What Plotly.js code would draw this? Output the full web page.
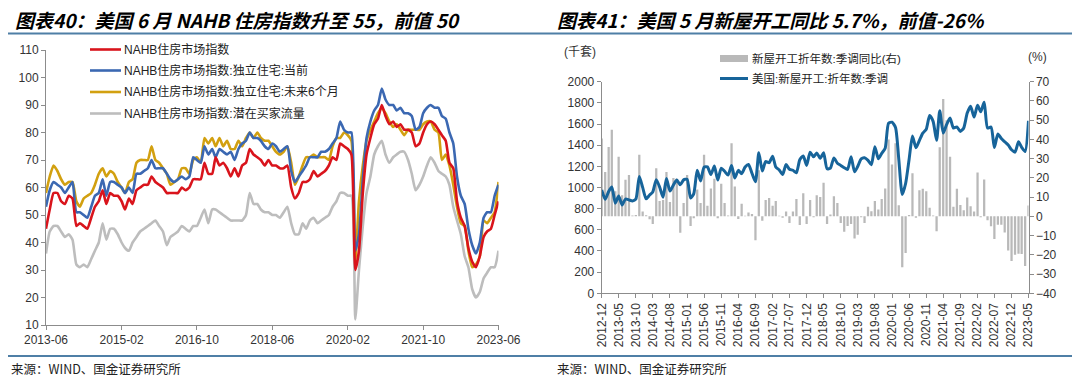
<!DOCTYPE html>
<html><head><meta charset="utf-8">
<script src="https://cdn.plot.ly/plotly-3.0.1.min.js"></script>
<style>html,body{margin:0;padding:0;background:#fff}#chart{width:1080px;height:379px}</style>
</head><body><div id="chart"></div>
<script>
// ---------- Left panel: NAHB indices, monthly 2013-06 .. 2023-06 ----------
const nahbStart = [2013, 6];
const nahbComposite = [45,52,58,58,55,54,57,
 56,46,47,46,45,49,53,55,59,54,58,57,
 57,55,52,56,54,59,60,61,61,64,62,61,
 60,58,58,58,58,60,59,60,63,63,63,69,
 65,65,71,68,69,67,64,67,64,68,69,74,
 72,71,70,68,70,68,68,67,67,68,60,56,
 58,62,62,63,66,64,65,66,68,71,70,76,
 75,74,72,30,37,58,72,78,83,85,90,86,
 83,84,82,83,81,81,80,75,76,80,83,84,
 83,81,79,77,69,67,55,49,46,38,33,31,
 35,42,44,45,50,55];
const nahbCurrent = [53,59,62,61,60,58,60,
 62,51,51,50,49,53,57,58,63,57,62,62,
 61,60,58,60,58,65,65,66,67,70,67,67,
 67,65,63,62,63,64,63,64,71,70,69,75,
 72,74,71,74,73,72,73,70,74,76,77,80,
 78,78,77,75,74,76,75,73,74,75,66,62,
 64,66,68,71,71,71,73,73,74,76,78,84,
 81,80,80,37,43,63,78,84,88,90,96,92,
 90,90,88,89,87,87,86,81,82,87,89,90,
 89,89,86,85,80,76,64,57,54,45,39,36,
 40,49,51,51,57,61];
const nahbNext6 = [58,64,68,66,63,61,62,
 62,55,53,56,57,58,61,65,67,64,66,65,
 62,60,58,62,63,69,70,70,70,75,70,69,
 67,65,61,62,63,67,67,65,70,71,69,78,
 76,78,75,78,75,77,74,74,77,75,78,80,
 78,80,78,77,77,75,73,72,73,75,69,61,
 64,68,71,71,72,71,71,71,70,75,78,78,
 80,79,77,33,55,68,77,81,84,87,89,87,
 84,82,83,81,79,81,81,81,81,83,84,84,
 81,80,70,72,68,61,53,47,46,37,31,32,
 35,48,47,49,51,62];
const nahbTraffic = [36,44,46,46,44,42,43,
 41,32,31,32,31,34,37,40,47,41,45,45,
 43,40,38,37,40,42,44,45,46,47,48,46,
 44,39,42,43,44,46,45,44,46,46,49,52,
 47,52,52,51,50,49,48,48,48,48,50,58,
 54,54,52,51,51,50,50,49,51,53,47,43,
 43,47,45,48,49,47,48,49,50,53,55,58,
 58,57,57,12,30,46,58,64,72,75,77,72,
 69,71,72,73,73,70,65,59,61,64,68,71,
 69,66,65,64,61,53,48,43,35,31,23,20,
 22,27,29,31,31,37];
const nahbNames = ['NAHB住房市场指数','NAHB住房市场指数:独立住宅:当前','NAHB住房市场指数:独立住宅:未来6个月','NAHB住房市场指数:潜在买家流量'];
const nahbColors = ['#d9141c','#3b68b2','#d2a010','#bdbdbd'];

// ---------- Right panel: US housing starts, monthly 2012-12 .. 2023-05 ----------
const startsStart = [2012, 12];
const startsSAAR = [976,
 888,962,1005,852,919,835,891,883,873,889,1105,1001,
 893,929,958,1074,1005,909,1085,966,1024,1070,1025,1072,
 1078,900,940,1164,1062,1193,1195,1122,1203,1070,1183,1153,
 1117,1207,1090,1162,1131,1193,1218,1135,1054,1328,1156,1245,
 1235,1296,1194,1166,1123,1217,1172,1163,1139,1263,1298,1209,
 1334,1290,1327,1276,1329,1177,1184,1280,1229,1209,1187,1171,
 1291,1149,1199,1270,1281,1256,1215,1386,1272,1323,1371,1608,
 1617,1567,1269,934,1038,1265,1487,1376,1445,1514,1551,1680,
 1625,1447,1725,1514,1594,1657,1562,1573,1530,1563,1703,1768,
 1666,1777,1716,1805,1562,1571,1377,1505,1463,1432,1401,1357,
 1334,1432,1380,1340,1631];
const startsYoY = [40.5,
 23,36,45,13,31,11,19,21.5,0.5,0.7,32,2.5,
 0.6,-1.5,-4,25,8,8.5,23,7.5,20,19.5,-8.5,7,
 21.5,-5,-1,14,7,32,5.5,14.5,19.5,-1,17,7,
 0.5,38,15.5,-1.4,6.5,0.3,2,1.2,-12.4,24,-2.3,8.5,
 9.5,5.5,8,0.3,-0.7,2.5,-3.5,2.5,9,-4.5,12,-4,
 8.5,-0.5,11,10,17.5,-4,1,10.5,7,-3.5,-8,-5,
 -4,-11.5,-9.5,-0.5,-3.5,5,2.6,8,3.5,9,14.5,40,
 27,38,5.8,-26.5,-19,0.7,22.4,-0.7,13.6,14.4,13.1,4.5,
 0.5,-7.7,35.9,61,50,31,5,14.3,5.9,3.2,9.8,5.2,
 2.5,22.8,-0.5,19.2,-2,-5.2,-11.8,-4.3,-4.4,-8.4,-17.7,-23.2,
 -19.9,-19.4,-19.6,-25.8,5.7];
const startsNames = ['新屋开工折年数:季调同比(右)','美国:新屋开工:折年数:季调'];

const titles = ['图表40：美国 6 月 NAHB 住房指数升至 55，前值 50','图表41：美国 5 月新屋开工同比 5.7%，前值-26%'];
const sourceText = '来源：WIND、国金证券研究所';

function monthSeq(start, n){
  const out=[];
  for(let k=0;k<n;k++){
    const t=start[1]-1+k, yy=start[0]+Math.floor(t/12), mm=t%12+1;
    out.push(yy+'-'+String(mm).padStart(2,'0')+'-01');
  }
  return out;
}
const W=1080,H=379;
const px=x=>x/W, py=y=>1-y/H;

const m1 = monthSeq(nahbStart, nahbComposite.length);
const m2 = monthSeq(startsStart, startsSAAR.length);

const latin = 'Liberation Sans, Arial, Noto Sans CJK SC, sans-serif';
const cjk = 'Liberation Sans, Noto Sans CJK SC, sans-serif';
const tickFont = {family: latin, size: 12, color: '#333'};
const axisCol = '#8c8c8c';

const series1 = [nahbComposite, nahbCurrent, nahbNext6, nahbTraffic];
const drawOrder = [3,2,1,0];
const traces = drawOrder.map(k => ({
  type:'scatter', mode:'lines', x:m1, y:series1[k], xaxis:'x', yaxis:'y',
  line:{color:nahbColors[k], width:2.6, shape:'spline', smoothing:0.5},
  showlegend:false, hoverinfo:'skip'
}));
traces.push({
  type:'bar', x:m2, y:startsYoY, xaxis:'x2', yaxis:'y2',
  marker:{color:'#b9b9b9', line:{width:0}}, showlegend:false, hoverinfo:'skip'
});
traces.push({
  type:'scatter', mode:'lines', x:m2, y:startsSAAR, xaxis:'x2', yaxis:'y3',
  line:{color:'#17649a', width:3, shape:'spline', smoothing:0.6},
  showlegend:false, hoverinfo:'skip'
});

const shapes = [
  {type:'line', xref:'paper', yref:'paper', x0:px(8), x1:px(1072), y0:py(33.5), y1:py(33.5), line:{color:'#4f7fa6', width:2}},
  {type:'line', xref:'paper', yref:'paper', x0:px(8), x1:px(1072), y0:py(356), y1:py(356), line:{color:'#4f7fa6', width:2}},
];
const annotations = [
  {text:titles[0], xref:'paper', yref:'paper', x:px(13), y:py(19), xanchor:'left', yanchor:'middle', showarrow:false,
   font:{family:'Noto Sans CJK SC, sans-serif', size:19, color:'#000', weight:'bold', style:'italic'}},
  {text:titles[1], xref:'paper', yref:'paper', x:px(555), y:py(19), xanchor:'left', yanchor:'middle', showarrow:false,
   font:{family:'Noto Sans CJK SC, sans-serif', size:19, color:'#000', weight:'bold', style:'italic'}},
  {text:sourceText, xref:'paper', yref:'paper', x:px(9), y:py(368), xanchor:'left', yanchor:'middle', showarrow:false,
   font:{family:'Noto Sans CJK SC, sans-serif', size:12.5, color:'#222'}},
  {text:sourceText, xref:'paper', yref:'paper', x:px(555), y:py(368), xanchor:'left', yanchor:'middle', showarrow:false,
   font:{family:'Noto Sans CJK SC, sans-serif', size:12.5, color:'#222'}},
  {text:'(千套)', xref:'paper', yref:'paper', x:px(580), y:py(52), xanchor:'center', yanchor:'middle', showarrow:false,
   font:{family:cjk, size:12, color:'#333'}},
  {text:'(%)', xref:'paper', yref:'paper', x:px(1037), y:py(57), xanchor:'center', yanchor:'middle', showarrow:false,
   font:{family:cjk, size:12, color:'#333'}},
];
// left legend
const legY = [49.5, 70.5, 92, 113.5];
for(let k=0;k<4;k++){
  shapes.push({type:'line', xref:'paper', yref:'paper', x0:px(90), x1:px(121), y0:py(legY[k]), y1:py(legY[k]), line:{color:nahbColors[k], width:2.6}});
  annotations.push({text:nahbNames[k], xref:'paper', yref:'paper', x:px(122), y:py(legY[k]), xanchor:'left', yanchor:'middle', showarrow:false,
    font:{family:cjk, size:12, color:'#222'}});
}
// right legend
shapes.push({type:'rect', xref:'paper', yref:'paper', x0:px(720), x1:px(748), y0:py(62), y1:py(55), fillcolor:'#b9b9b9', line:{width:0}});
shapes.push({type:'line', xref:'paper', yref:'paper', x0:px(720), x1:px(748), y0:py(78.5), y1:py(78.5), line:{color:'#17649a', width:3}});
annotations.push({text:startsNames[0], xref:'paper', yref:'paper', x:px(750), y:py(58.5), xanchor:'left', yanchor:'middle', showarrow:false, font:{family:cjk, size:11.5, color:'#222'}});
annotations.push({text:startsNames[1], xref:'paper', yref:'paper', x:px(750), y:py(78.5), xanchor:'left', yanchor:'middle', showarrow:false, font:{family:cjk, size:11.5, color:'#222'}});

const layout = {
  width:W, height:H, margin:{l:0,r:0,t:0,b:0}, paper_bgcolor:'#fff', plot_bgcolor:'rgba(0,0,0,0)',
  showlegend:false, bargap:0.28,
  xaxis:{domain:[px(46), px(498.5)], anchor:'y', type:'date', range:[m1[0], m1[m1.length-1]],
    tick0:m1[0], dtick:'M20', tickformat:'%Y-%m', ticks:'outside', ticklen:4, tickcolor:axisCol,
    showline:true, linecolor:axisCol, linewidth:1, showgrid:false, zeroline:false, tickfont:tickFont},
  yaxis:{domain:[py(325), py(50)], anchor:'x', range:[10,110], dtick:10, ticks:'outside', ticklen:4, tickcolor:axisCol,
    showline:true, linecolor:axisCol, linewidth:1, showgrid:false, zeroline:false, tickfont:tickFont},
  xaxis2:{domain:[px(601.7), px(1028.5)], anchor:'y2', type:'date', range:[m2[0], m2[m2.length-1]],
    tick0:m2[0], dtick:'M5', tickformat:'%Y-%m', tickangle:-90, ticks:'outside', ticklen:4, tickcolor:axisCol,
    showline:true, linecolor:axisCol, linewidth:1, showgrid:false, zeroline:false, tickfont:tickFont},
  yaxis2:{domain:[py(293.3), py(81.7)], anchor:'x2', side:'right', range:[-40,70], dtick:10, ticks:'outside', ticklen:4, tickcolor:axisCol,
    showline:true, linecolor:axisCol, linewidth:1, showgrid:false, zeroline:false, tickfont:tickFont},
  yaxis3:{domain:[py(293.3), py(81.7)], anchor:'x2', overlaying:'y2', side:'left', range:[0,2000], dtick:200, ticks:'outside', ticklen:4, tickcolor:axisCol,
    showline:true, linecolor:axisCol, linewidth:1, showgrid:false, zeroline:false, tickfont:tickFont},
  shapes:shapes, annotations:annotations
};
Plotly.newPlot('chart', traces, layout, {staticPlot:true, displayModeBar:false});
</script></body></html>
